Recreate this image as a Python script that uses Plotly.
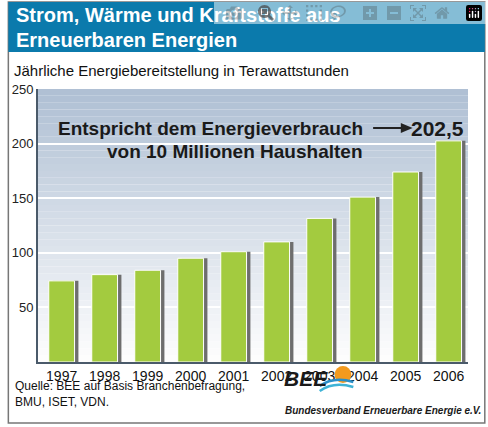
import plotly.graph_objects as go

years = ["1997","1998","1999","2000","2001","2002","2003","2004","2005","2006"]
values = [74.3, 80, 84, 95, 101, 110, 131.5, 151, 174, 202.5]
yticks = [50, 100, 150, 200, 250]

W, H = 488, 427
L, R, T, B = 33, 468, 89, 362
def xp(px): return (px - L) / (R - L)
def yp(py): return (B - py) / (B - T)

xs = list(range(len(years)))
fig = go.Figure()
fig.add_trace(go.Bar(x=[x + 0.09 for x in xs], y=values, width=0.6,
                     marker=dict(color="#6e6e6e", line=dict(width=0)), hoverinfo="skip"))
fig.add_trace(go.Bar(x=xs, y=values, width=0.6,
                     marker=dict(color="#a3cb3f", line=dict(color="white", width=1))))

shapes = []
n = 40
for i in range(n):
    f = i / n
    c0 = (176, 192, 212); c1 = (255, 255, 255)
    c = tuple(int(c0[k] + (c1[k] - c0[k]) * f) for k in range(3))
    shapes.append(dict(type="rect", xref="paper", yref="paper", x0=0, x1=1,
                       y0=1 - (i + 1) / n, y1=1 - i / n, fillcolor="rgb(%d,%d,%d)" % c,
                       line=dict(width=0), layer="below"))
shapes.append(dict(type="rect", xref="paper", yref="paper", x0=xp(3), x1=xp(485), y0=yp(423), y1=yp(2),
                   line=dict(color="#777", width=1.5), layer="below"))
shapes.append(dict(type="rect", xref="paper", yref="paper", x0=xp(3), x1=xp(485), y0=yp(52), y1=yp(2),
                   fillcolor="#0b7aac", line=dict(width=0), layer="below"))
shapes.append(dict(type="line", xref="paper", yref="paper", x0=xp(372), x1=xp(402), y0=yp(128), y1=yp(128),
                   line=dict(color="#222", width=2)))
shapes.append(dict(type="path", xref="paper", yref="paper",
                   path="M %f %f L %f %f L %f %f Z" % (xp(400), yp(123), xp(412), yp(128), xp(400), yp(133)),
                   fillcolor="#222", line=dict(width=0)))
shapes.append(dict(type="circle", xref="paper", yref="paper", x0=xp(333), x1=xp(350), y0=yp(383), y1=yp(366),
                   fillcolor="#f39a1e", line=dict(width=0)))
for dy, col in [(0, "#2a8fc8"), (5, "#3fb3d6")]:
    shapes.append(dict(type="path", xref="paper", yref="paper",
                       path="M %f %f Q %f %f %f %f" % (xp(318), yp(386 + dy), xp(332), yp(376 + dy), xp(352), yp(382 + dy)),
                       line=dict(color=col, width=2.5)))

ann = []
def txt(s, x, y, size, color="#111", bold=False, xanchor="left", italic=False, family="Liberation Sans, Arial"):
    if bold: s = "<b>" + s + "</b>"
    if italic: s = "<i>" + s + "</i>"
    ann.append(dict(text=s, x=xp(x), y=yp(y), xref="paper", yref="paper", showarrow=False,
                    xanchor=xanchor, yanchor="middle", font=dict(size=size, color=color, family=family)))
txt("Strom, Wärme und Kraftstoffe aus", 9, 15, 20, "white", True)
txt("Erneuerbaren Energien", 9, 40, 20, "white", True)
txt("Jährliche Energiebereitstellung in Terawattstunden", 7, 70, 15)
txt("Entspricht dem Energieverbrauch", 364, 128, 19, "#1a1a1a", True, "right")
txt("von 10 Millionen Haushalten", 364, 151, 19, "#1a1a1a", True, "right")
txt("202,5", 466, 128, 21, "#1a1a1a", True, "right")
txt("Quelle: BEE auf Basis Branchenbefragung,", 8, 386, 12)
txt("BMU, ISET, VDN.", 8, 402, 12)
txt("BEE", 280, 378, 21, "#1a1a1a", True, italic=True)
txt("Bundesverband Erneuerbare Energie e.V.", 281, 410, 10, "#1a1a1a", True, italic=True)

fig.update_layout(
    width=W, height=H, margin=dict(l=L, r=W - R, t=T, b=H - B),
    paper_bgcolor="white", plot_bgcolor="rgba(0,0,0,0)",
    showlegend=False, barmode="overlay", shapes=shapes, annotations=ann,
    xaxis=dict(range=[-0.55, 9.45], tickvals=xs, ticktext=years, showgrid=False,
               tickfont=dict(size=14, color="#111", family="Liberation Sans, Arial"),
               showline=True, linecolor="#4a5a6a", linewidth=2, ticks="", fixedrange=True),
    yaxis=dict(range=[0, 250], tickvals=yticks, showgrid=True, gridcolor="white", gridwidth=1.5,
               tickfont=dict(size=13, color="#222", family="Liberation Sans, Arial"),
               showline=True, linecolor="#4a5a6a", linewidth=2, ticks="", zeroline=False, layer="below traces"),
)
fig.write_html("out.html", post_script="document.body.style.margin='0';document.body.style.overflow='hidden';")
